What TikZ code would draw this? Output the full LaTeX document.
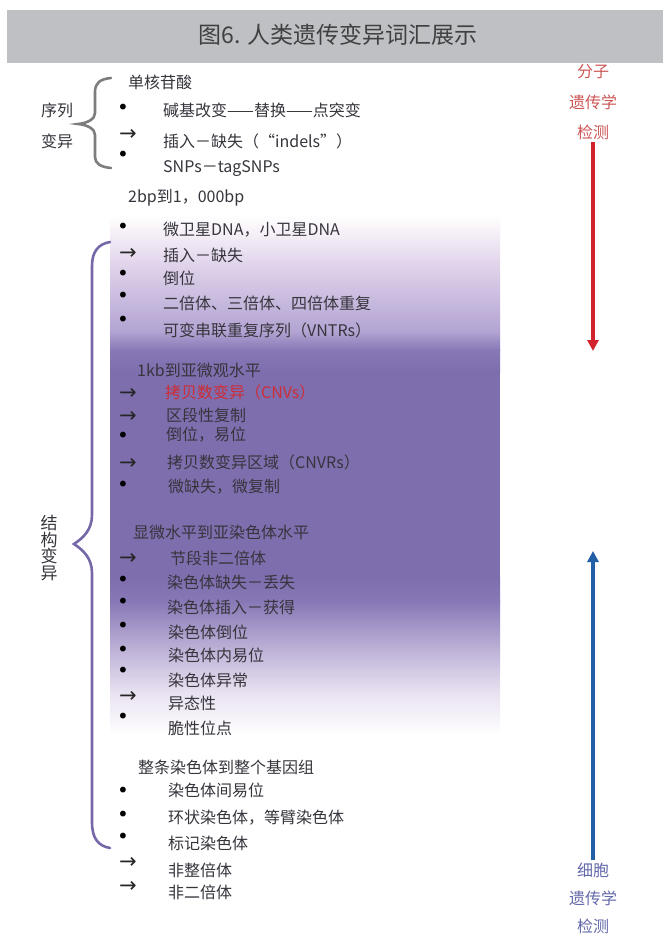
\documentclass[tikz,border=0pt]{standalone}
\usepackage{fontspec}
\setmainfont{Noto Sans CJK SC}
\newfontfamily\symf{DejaVu Sans}
\usetikzlibrary{arrows.meta}
\definecolor{txt}{RGB}{55,52,60}
\definecolor{barg}{RGB}{190,192,196}
\definecolor{pur}{RGB}{126,110,174}
\definecolor{pA}{RGB}{250,246,250}
\definecolor{pB}{RGB}{226,214,236}
\definecolor{pC}{RGB}{178,163,210}
\definecolor{pD}{RGB}{136,120,182}
\definecolor{pE}{RGB}{190,178,215}
\definecolor{pF}{RGB}{232,225,240}
\definecolor{braceP}{RGB}{118,104,168}
\definecolor{braceG}{RGB}{125,125,125}
\definecolor{redA}{RGB}{210,35,45}
\definecolor{redT}{RGB}{205,85,85}
\definecolor{bluA}{RGB}{35,95,165}
\definecolor{bluT}{RGB}{100,105,170}
\definecolor{redI}{RGB}{205,45,55}
\tikzset{
  itm/.style={anchor=west, inner sep=0pt, text=txt, font=\fontsize{16}{16}\selectfont},
  hdr/.style={anchor=west, inner sep=0pt, text=txt, font=\fontsize{16}{16}\selectfont},
  bul/.style={inner sep=0pt, text=black, font=\symf\fontsize{20}{20}\selectfont, text height=9pt, text depth=-5pt},
  arw/.style={inner sep=0pt, text=black!85, font=\symf\fontsize{21}{21}\selectfont, text height=9.5pt, text depth=-4.5pt},
  side/.style={inner sep=0pt, font=\fontsize{16}{16}\selectfont},
  brc/.style={line width=2.6pt, line cap=round},
}
\begin{document}
\begin{tikzpicture}[x=1pt,y=-1pt]
\useasboundingbox (0,0) rectangle (663,937);
\fill[white] (0,0) rectangle (663,937);
% purple background
\shade[top color=white, bottom color=pA] (110,215) rectangle (500,226);
\shade[top color=pA, bottom color=pB] (110,225.5) rectangle (500,262);
\shade[top color=pB, bottom color=pC] (110,261.5) rectangle (500,332);
\shade[top color=pC, bottom color=pD] (110,331.5) rectangle (500,350);
\shade[top color=pD, bottom color=pur] (110,349.5) rectangle (500,372);
\fill[pur] (110,371.5) rectangle (500,578);
\shade[top color=pur, bottom color=pD] (110,577.5) rectangle (500,602);
\shade[top color=pD, bottom color=pE] (110,601.5) rectangle (500,650);
\shade[top color=pE, bottom color=pF] (110,649.5) rectangle (500,692);
\shade[top color=pF, bottom color=white] (110,691.5) rectangle (500,735);
% right side texts (under title bar)
\node[side, text=redT] (m1) at (593,72) {分子};
\node[side, text=redT] (m2) at (593,102) {遗传学};
\node[side, text=redT] (m3) at (593,132) {检测};
\coordinate (mEnd) at (593,351);
\draw[redA, line width=3.2pt, -{Triangle[length=11pt,width=11pt]}] (m3.south) ++(0,2) -- (mEnd);
\node[side, text=bluT] (c1) at (593,870) {细胞};
\node[side, text=bluT] (c2) at (593,898) {遗传学};
\node[side, text=bluT] (c3) at (593,926) {检测};
\coordinate (cEnd) at (593,551);
\draw[bluA, line width=3.2pt, -{Triangle[length=11pt,width=11pt]}] (c1.north) ++(0,-2) -- (cEnd);
% title bar
\fill[barg] (7,10) rectangle (663,63);
\node[inner sep=0pt, text=black!75, font=\fontsize{23}{23}\selectfont] (title) at (338,35) {图6. 人类遗传变异词汇展示};
% sequence variation
\node[inner sep=0pt, text=txt, font=\fontsize{16}{16}\selectfont] (s1) at (57,110) {序列};
\node[inner sep=0pt, text=txt, font=\fontsize{16}{16}\selectfont] (s2) at (57,141) {变异};
\draw[brc, braceG] (111,78) .. controls (100,79) and (95,83) .. (95,92) -- (95,113)
  .. controls (95,119) and (88,123) .. (78,124) .. controls (88,125) and (95,129) .. (95,135)
  -- (95,157) .. controls (95,163) and (100,167) .. (111,168);
\node[hdr] (h0) at (128,82) {单核苷酸};
\node[bul] (b01) at (123,110) {•};
\node[itm] (t01) at (163,110) {碱基改变——替换——点突变};
\node[arw] (a02) at (128,136) {→};
\node[itm] (t02) at (163,141) {插入－缺失（“indels”）};
\node[bul] (b03) at (123,157) {•};
\node[itm] (t03) at (163,169) {SNPs－tagSNPs};
% 2bp to 1000bp
\node[hdr] (h1) at (128,198) {2bp到1，000bp};
\node[bul] (b11) at (123,229) {•};
\node[itm] (t11) at (163,230) {微卫星DNA，小卫星DNA};
\node[arw] (a12) at (128,255) {→};
\node[itm] (t12) at (163,255) {插入－缺失};
\node[bul] (b13) at (123,276) {•};
\node[itm] (t13) at (163,278) {倒位};
\node[bul] (b14) at (123,298) {•};
\node[itm] (t14) at (163,303) {二倍体、三倍体、四倍体重复};
\node[bul] (b15) at (123,322) {•};
\node[itm] (t15) at (163,330) {可变串联重复序列（VNTRs）};
% 1kb
\node[hdr] (h2) at (137,370) {1kb到亚微观水平};
\node[arw] (a21) at (128,395) {→};
\node[itm, text=redI] (t21) at (165,392) {拷贝数变异（CNVs）};
\node[arw] (a22) at (128,418) {→};
\node[itm] (t22) at (166,415) {区段性复制};
\node[bul] (b23) at (123,438) {•};
\node[itm] (t23) at (166,435) {倒位，易位};
\node[arw] (a24) at (128,465) {→};
\node[itm] (t24) at (167,462) {拷贝数变异区域（CNVRs）};
\node[bul] (b25) at (123,487) {•};
\node[itm] (t25) at (168,487) {微缺失，微复制};
% microscopic
\node[hdr] (h3) at (133,532) {显微水平到亚染色体水平};
\node[arw] (a31) at (128,560) {→};
\node[itm] (t31) at (170,558) {节段非二倍体};
\node[bul] (b32) at (123,582) {•};
\node[itm] (t32) at (167,582) {染色体缺失－丢失};
\node[bul] (b33) at (123,604) {•};
\node[itm] (t33) at (167,607) {染色体插入－获得};
\node[bul] (b34) at (123,628) {•};
\node[itm] (t34) at (168,632) {染色体倒位};
\node[bul] (b35) at (123,652) {•};
\node[itm] (t35) at (168,655) {染色体内易位};
\node[bul] (b36) at (123,673) {•};
\node[itm] (t36) at (168,680) {染色体异常};
\node[arw] (a37) at (128,698) {→};
\node[itm] (t37) at (168,703) {异态性};
\node[bul] (b38) at (123,719) {•};
\node[itm] (t38) at (168,728) {脆性位点};
% whole chromosome
\node[hdr] (h4) at (138,767) {整条染色体到整个基因组};
\node[bul] (b41) at (123,793) {•};
\node[itm] (t41) at (168,790) {染色体间易位};
\node[bul] (b42) at (123,817) {•};
\node[itm] (t42) at (168,818) {环状染色体，等臂染色体};
\node[bul] (b43) at (123,839) {•};
\node[itm] (t43) at (168,843) {标记染色体};
\node[arw] (a44) at (128,864) {→};
\node[itm] (t44) at (168,870) {非整倍体};
\node[arw] (a45) at (128,888) {→};
\node[itm] (t45) at (168,892) {非二倍体};
% structural variation brace
\draw[brc, braceP] (110,242) .. controls (98,244) and (92,252) .. (92,266) -- (92,515)
  .. controls (92,530) and (83,538) .. (74,544) .. controls (83,550) and (92,558) .. (92,573)
  -- (92,822) .. controls (92,838) and (98,846) .. (110,848);
\node[inner sep=0pt, text=txt, font=\fontsize{17}{17}\selectfont, align=center] (sv) at (49,548)
  {\baselineskip=17.5pt 结\\[-0.5pt]构\\[-0.5pt]变\\[-0.5pt]异};
\end{tikzpicture}
\end{document}
